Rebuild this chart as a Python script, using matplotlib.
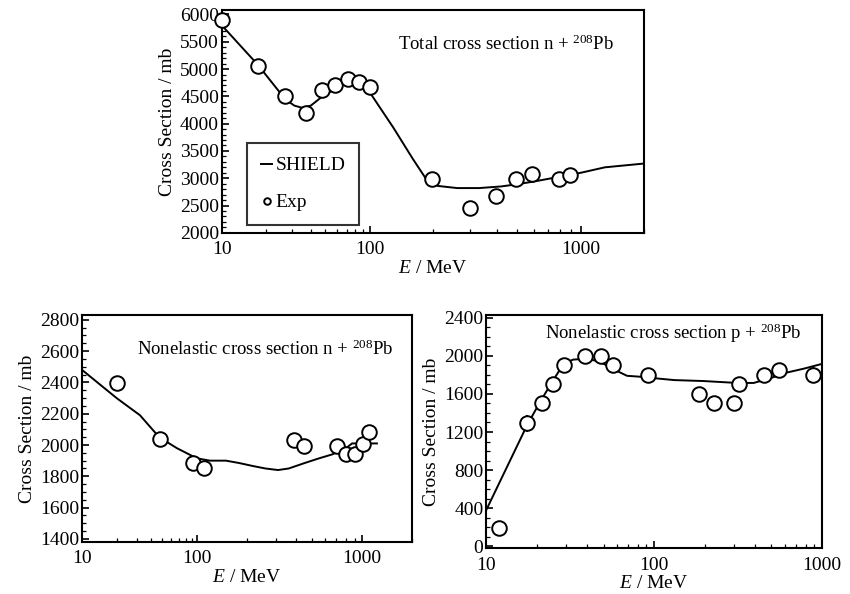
import matplotlib
matplotlib.use("Agg")
import matplotlib.pyplot as plt
import numpy as np
from matplotlib.ticker import FixedLocator, AutoMinorLocator, NullFormatter

plt.rcParams['font.family'] = ['Liberation Serif', 'DejaVu Serif']
plt.rcParams['mathtext.fontset'] = 'custom'
plt.rcParams['mathtext.rm'] = 'Liberation Serif'
plt.rcParams['mathtext.it'] = 'Liberation Serif:italic'

# --- total cross section n + 208Pb ---
tot_exp_e = [10, 17.5, 26.8, 36.9, 47.7, 58.5, 71.3, 85, 100, 198, 298, 398, 495, 591, 792, 893]
tot_exp_y = [5890, 5050, 4510, 4200, 4610, 4710, 4820, 4770, 4670, 2980, 2460, 2680, 2990, 3070, 2980, 3060]
tot_sh_e = [10, 17.5, 27, 31, 35, 40, 48, 58, 70, 79, 88, 100, 130, 160, 185, 210, 260, 330, 420,
            500, 600, 800, 1000, 1300, 2000]
tot_sh_y = [5800, 5080, 4440, 4330, 4290, 4330, 4500, 4630, 4820, 4860, 4810, 4580, 3920, 3360, 2990,
            2860, 2820, 2820, 2850, 2890, 2940, 3030, 3100, 3200, 3270]

# --- nonelastic n + 208Pb ---
nn_exp_e = [20.3, 47.5, 93.5, 110, 389, 447, 708, 794, 903, 1014, 1107]
nn_exp_y = [2395, 2040, 1885, 1855, 2035, 1995, 1995, 1945, 1945, 2005, 2085]
nn_exp_err = [30, 0, 0, 0, 0, 0, 0, 0, 0, 0, 25]
nn_sh_e = [10, 20, 32, 47, 67, 100, 120, 150, 180, 220, 260, 310, 360, 450, 550, 660, 800, 870, 1000, 1230]
nn_sh_y = [2480, 2300, 2190, 2050, 1980, 1915, 1900, 1900, 1885, 1865, 1850, 1840, 1850, 1885, 1915,
           1940, 1980, 2010, 2010, 2010]

# --- nonelastic p + 208Pb ---
pn_exp_e = [11.9, 17.5, 21.5, 25, 29, 39, 48.6, 56.6, 92.5, 184, 226, 298, 319, 450, 553, 887]
pn_exp_y = [190, 1290, 1500, 1700, 1900, 2000, 2000, 1900, 1800, 1600, 1500, 1500, 1700, 1800, 1850, 1800]
pn_exp_err = [0, 90, 0, 0, 0, 0, 0, 0, 0, 0, 0, 0, 0, 0, 0, 90]
pn_sh_e = [10, 17.5, 21, 25, 29, 33, 40, 48, 57, 69, 83, 100, 132, 197, 312, 392, 493, 621, 780, 1000]
pn_sh_y = [380, 1270, 1520, 1740, 1920, 1960, 1970, 1935, 1860, 1790, 1780, 1765, 1745, 1735, 1715,
           1715, 1765, 1825, 1865, 1915]

major_e = [10, 100, 1000]
minor_e = [m * 10 ** k for k in (1, 2, 3) for m in range(2, 10)]


# the scanned energy axis: second decade drawn wider than the first
def warped_log(r):
    def fwd(x):
        L = np.log10(np.clip(x, 1e-3, None))
        return np.where(L <= 2, L - 1, 1 + (L - 2) * r)

    def inv(v):
        v = np.asarray(v, dtype=float)
        return np.where(v <= 1, 10 ** (v + 1), 10 ** (2 + (v - 1) / r))
    return fwd, inv


def style_axis(ax, xlim, ylim, yticks, yminor):
    ax.set_xlim(*xlim)
    ax.set_ylim(*ylim)
    ax.xaxis.set_major_locator(FixedLocator(major_e))
    ax.xaxis.set_minor_locator(FixedLocator(minor_e))
    ax.xaxis.set_minor_formatter(NullFormatter())
    ax.set_xticks(major_e, [str(v) for v in major_e])
    ax.set_yticks(yticks, [str(v) for v in yticks])
    ax.yaxis.set_minor_locator(AutoMinorLocator(yminor))
    ax.tick_params(which='both', direction='in', top=False, right=False, labelsize=14)
    ax.tick_params(axis='x', pad=6)
    ax.tick_params(axis='y', pad=2)
    ax.tick_params(which='major', length=5, width=1.2)
    ax.tick_params(which='minor', length=3, width=0.9)
    for s in ax.spines.values():
        s.set_linewidth(1.5)
    ax.set_xlabel('$E$ / MeV', fontsize=14, labelpad=1)
    ax.set_ylabel('Cross Section / mb', fontsize=14, labelpad=3)


fig = plt.figure(figsize=(8.5, 5.94), dpi=100)

mk = dict(marker='o', ms=10.5, mfc='white', mec='black', mew=1.4, ls='none', color='black',
          capsize=0, elinewidth=1.3, zorder=3, clip_on=False)

# top panel
ax1 = fig.add_axes([0.261, 0.608, 0.497, 0.375])
ax1.set_xscale('function', functions=warped_log(1.43))
ax1.plot(tot_sh_e, tot_sh_y, color='black', lw=1.4, label='SHIELD')
ax1.plot(tot_exp_e, tot_exp_y, **{k: v for k, v in mk.items() if k not in ('capsize', 'elinewidth')},
         label='Exp')
style_axis(ax1, (10, 2000), (2000, 6080), list(range(2000, 6001, 500)), 5)
ax1.text(0.417, 0.846, r'Total cross section n + $^{208}$Pb', transform=ax1.transAxes,
         fontsize=13.5, va='center', ha='left')
leg = ax1.legend(loc='lower left', bbox_to_anchor=(0.06, 0.035), fontsize=14, frameon=True,
                 fancybox=False, edgecolor='black', handlelength=0.6, handletextpad=0.15,
                 markerscale=0.45, borderpad=0.7, labelspacing=1.0, borderaxespad=0)
leg.get_frame().set_linewidth(1.5)

# bottom left panel
ax2 = fig.add_axes([0.0965, 0.0875, 0.388, 0.382])
ax2.set_xscale('function', functions=warped_log(1.44))
ax2.plot(nn_sh_e, nn_sh_y, color='black', lw=1.4)
ax2.errorbar(nn_exp_e, nn_exp_y, yerr=nn_exp_err, **mk)
style_axis(ax2, (10, 2000), (1380, 2830), list(range(1400, 2801, 200)), 4)
ax2.text(0.167, 0.85, r'Nonelastic cross section n + $^{208}$Pb', transform=ax2.transAxes,
         fontsize=13.5, va='center', ha='left')

# bottom right panel
ax3 = fig.add_axes([0.572, 0.077, 0.395, 0.393])
ax3.set_xscale('log')
ax3.plot(pn_sh_e, pn_sh_y, color='black', lw=1.4)
ax3.errorbar(pn_exp_e, pn_exp_y, yerr=pn_exp_err, **mk)
style_axis(ax3, (10, 1000), (-20, 2430), list(range(0, 2401, 400)), 4)
ax3.text(0.174, 0.92, r'Nonelastic cross section p + $^{208}$Pb', transform=ax3.transAxes,
         fontsize=13.5, va='center', ha='left')

fig.savefig('out.png', dpi=100)
